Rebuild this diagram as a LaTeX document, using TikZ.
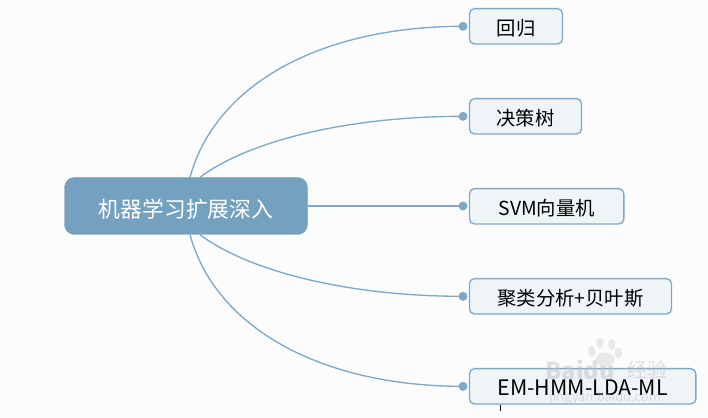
\documentclass[tikz,border=0pt]{standalone}
\usepackage{fontspec}
\setmainfont{Noto Sans CJK SC}
\usetikzlibrary{calc}
\definecolor{mapblue}{HTML}{74A1C0}
\definecolor{leafedge}{HTML}{7FA9C6}
\definecolor{leaffill}{HTML}{EFF4F7}
\definecolor{paper}{HTML}{FCFCFC}
\definecolor{markgray}{HTML}{BEBEBE}
\tikzset{
	rootbox/.style={fill=mapblue, draw=mapblue, rounded corners=0.3cm, minimum width=7.29cm, minimum height=1.71cm, text=white, text height=0.67cm, text depth=0cm, font=\fontsize{18.6pt}{20pt}\selectfont, inner sep=0},
	leafbox/.style={fill=leaffill, draw=leafedge, line width=0.4mm, rounded corners=0.15cm, minimum height=1.06cm, text height=0.53cm, text depth=0cm, font=\fontsize{16.5pt}{18pt}\selectfont, text=black, inner sep=0},
	leafdot/.style={circle, fill=leafedge, minimum size=0.27cm, inner sep=0},
	branch/.style={draw=leafedge, line width=0.4mm},
	marktext/.style={text=markgray, text opacity=0.45, inner sep=0}
}
\begin{document}
\begin{tikzpicture}
	\fill[paper] (0, 0) rectangle (21.24, 12.54);
	\useasboundingbox (0, 0) rectangle (21.24, 12.54);
	
	\node[rootbox] (root) at (5.58, 6.36) {机器学习扩展深入};
	
	\node[leafbox, minimum width=2.79cm] (regress) at (15.48, 11.75) {回归};
	\node[leafbox, minimum width=3.36cm] (tree) at (15.765, 9.05) {决策树};
	\node[leafbox, minimum width=4.63cm] (svm) at (16.4, 6.35) {SVM向量机};
	\node[leafbox, minimum width=6.06cm] (bayes) at (17.115, 3.65) {聚类分析+贝叶斯};
	\node[leafbox, minimum width=6.79cm] (hmm) at (17.48, 0.95) {\fontsize{18.2pt}{20pt}\selectfont EM-HMM-LDA-ML};
	
	\node[leafdot] (dotregress) at (13.89, 11.75) {};
	\node[leafdot] (dottree) at (13.89, 9.05) {};
	\node[leafdot] (dotsvm) at (13.89, 6.36) {};
	\node[leafdot] (dotbayes) at (13.89, 3.65) {};
	\node[leafdot] (dothmm) at (13.89, 0.95) {};
	
	\draw[branch] (root.82) .. controls (6.45, 9.99) and (9.6, 11.75) .. (dotregress.center);
	\draw[branch] (root.64) .. controls (7.5, 8.34) and (10.5, 9.05) .. (dottree.center);
	\draw[branch] (root.east) -- (dotsvm.center);
	\draw[branch] (root.-64) .. controls (7.5, 4.38) and (10.5, 3.65) .. (dotbayes.center);
	\draw[branch] (root.-82) .. controls (6.45, 2.73) and (9.6, 0.95) .. (dothmm.center);
	
	%%%%% tick under the last box, faint watermark %%%%%
	\draw[line width=0.2mm] (15, 0.4) -- (15, 0.22);
	
	\node[marktext, font=\fontsize{20pt}{22pt}\selectfont\bfseries] (markbai) at (17.4, 1.44) {Baidu};
	\node[marktext, font=\fontsize{17pt}{18pt}\selectfont] (markjing) at (19.41, 1.44) {经验};
	\node[marktext, font=\fontsize{11pt}{12pt}\selectfont] (markurl) at (18.15, 0.6) {jingyan.baidu.com};
	\begin{scope}[opacity=0.3]
		\fill[markgray] (17.75, 2.0) ellipse (0.11 and 0.17);
		\fill[markgray] (18.0, 2.25) ellipse (0.11 and 0.17);
		\fill[markgray] (18.35, 2.2) ellipse (0.11 and 0.17);
		\fill[markgray] (18.55, 1.95) ellipse (0.11 and 0.17);
		\fill[markgray] (18.15, 1.75) ellipse (0.28 and 0.22);
	\end{scope}
\end{tikzpicture}
\end{document}
